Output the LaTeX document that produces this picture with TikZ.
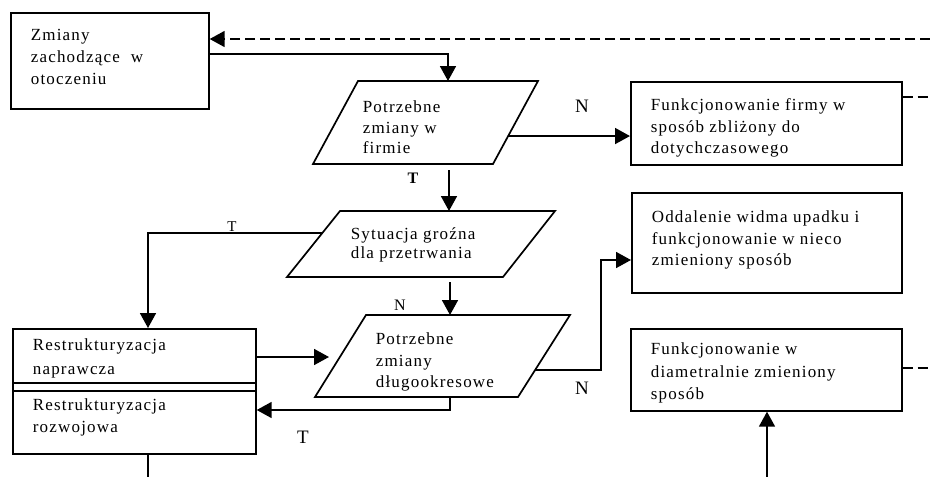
\documentclass[tikz,border=0pt]{standalone}
\usepackage{fontspec}
\setmainfont{Liberation Serif}
\newfontfamily\boxfont{Liberation Serif}[LetterSpace=7]
\usetikzlibrary{arrows.meta,calc}
\begin{document}
\begin{tikzpicture}[x=1pt,y=-1pt,
  line width=1.7pt,
  box/.style={draw, line width=1.7pt, rectangle, inner sep=0pt, anchor=north west},
  txt/.style={anchor=north west, inner sep=0pt, align=left, font=\boxfont\fontsize{17}{21.5}\selectfont},
  lbl/.style={inner sep=0pt, font=\fontsize{19}{19}\selectfont},
  arr/.style={-{Triangle[length=15pt,width=16pt]}},
  dsh/.style={dash pattern=on 10pt off 5pt}
]
\useasboundingbox (0,0) rectangle (930,477);

% boxes
\node[box, minimum width=198pt, minimum height=96pt] (b1) at (10,12) {};
\node[box, minimum width=271pt, minimum height=83pt] (b2) at (630,81) {};
\node[box, minimum width=270pt, minimum height=100pt] (b4) at (631,192) {};
\node[box, minimum width=271pt, minimum height=82pt] (b5) at (630,328) {};
\node[box, minimum width=243pt, minimum height=62pt] (b3a) at (12,328) {};
\node[box, minimum width=243pt, minimum height=71pt] (b3b) at (12,382) {};

% parallelograms
\draw (358,81) coordinate (p1tl) -- (538,81) coordinate (p1tr) -- (493,164) coordinate (p1br) -- (313,164) coordinate (p1bl) -- cycle;
\draw (340,211) coordinate (p2tl) -- (555,211) coordinate (p2tr) -- (503,277) coordinate (p2br) -- (287,277) coordinate (p2bl) -- cycle;
\draw (366,315) coordinate (p3tl) -- (570,315) coordinate (p3tr) -- (518,397) coordinate (p3br) -- (315,397) coordinate (p3bl) -- cycle;

% texts
\node[txt, font=\boxfont\fontsize{17}{22}\selectfont] (t1) at (30,28) {Zmiany\\zachodzące\ \ w\\otoczeniu};
\node[txt, font=\boxfont\fontsize{17}{20.5}\selectfont] (tp1) at (362,100) {Potrzebne\\zmiany w\\firmie};
\node[txt] (t2) at (650,98) {Funkcjonowanie firmy w\\sposób zbliżony do\\dotychczasowego};
\node[txt] (t4) at (651,210) {Oddalenie widma upadku i\\funkcjonowanie w nieco\\zmieniony sposób};
\node[txt, font=\boxfont\fontsize{17}{22.5}\selectfont] (t5) at (650,342) {Funkcjonowanie w\\diametralnie zmieniony\\sposób};
\node[txt, font=\boxfont\fontsize{17}{19}\selectfont] (tp2) at (350,227) {Sytuacja groźna\\dla przetrwania};
\node[txt] (tp3) at (375,332) {Potrzebne\\zmiany\\długookresowe};
\node[txt, font=\boxfont\fontsize{17}{24}\selectfont] (t3a) at (32,338) {Restrukturyzacja\\naprawcza};
\node[txt] (t3b) at (32,398) {Restrukturyzacja\\rozwojowa};

% coordinates for connector ends
\coordinate (c1) at (448,54);
\coordinate (rt1) at (930,39);
\coordinate (rt2) at (930,97);
\coordinate (rt5) at (930,368);
\coordinate (p1out) at ($(p1tr)!0.663!(p1br)$);
\coordinate (p1bot) at (449,170);
\coordinate (p2left) at ($(p2tl)!0.33!(p2bl)$);
\coordinate (p2bot) at (450,282);
\coordinate (p3in) at (329,357);
\coordinate (p3bot) at (450,397);
\coordinate (p3out) at ($(p3tr)!0.67!(p3br)$);
\coordinate (bot1) at (148,477);
\coordinate (bot2) at (767,477);

% connectors
\draw[dsh, arr] (rt1) -- (rt1 -| b1.east);
\draw[arr] (b1.east |- c1) -| (p1tl -| c1);
\draw[arr] (p1out) -- (p1out -| b2.west);
\draw[dsh] (b2.east |- rt2) -- (rt2);
\draw[arr] (p1bot) -- (p1bot |- p2tl);
\draw[arr] (p2left) -| (b3a.north -| bot1);
\draw[arr] (p2bot) -- (p2bot |- p3tl);
\draw[arr] (b3a.east |- p3in) -- (p3in);
\draw[arr] (p3bot) -- ++(0,13) -- (b3b.east |- 0,410);
\draw (b3b.south -| bot1) -- (bot1);
\draw[arr] (p3out) -- (601,370) |- (b4.west |- 0,260);
\draw[dsh] (b5.east |- rt5) -- (rt5);
\draw[arr] (bot2) -- (bot2 |- b5.south);

% labels
\node[lbl] (n1) at (582,106) {N};
\node[lbl, font=\fontsize{16}{16}\selectfont\bfseries] (tl1) at (413,178) {T};
\node[lbl, anchor=south, font=\fontsize{15}{15}\selectfont] (tl2) at (232,232) {T};
\node[lbl, font=\fontsize{16}{16}\selectfont] (n2) at (400,305) {N};
\node[lbl] (tl3) at (303,437) {T};
\node[lbl] (n3) at (582,388) {N};
\end{tikzpicture}
\end{document}
